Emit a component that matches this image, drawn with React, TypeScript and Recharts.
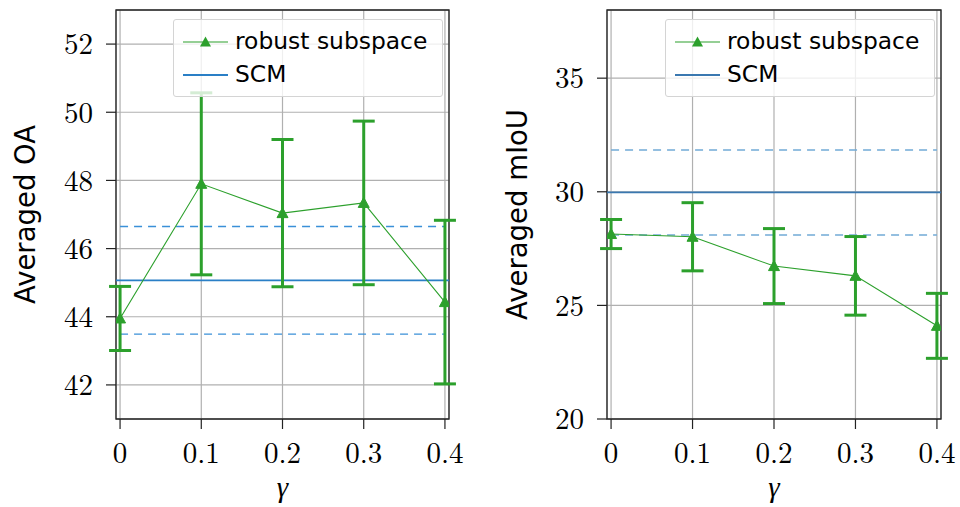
import {
  ComposedChart,
  Line,
  XAxis,
  YAxis,
  CartesianGrid,
  ErrorBar,
  ReferenceLine,
  ReferenceArea,
  Legend,
} from "recharts";

const gammas = [0, 0.1, 0.2, 0.3, 0.4];

const oaMean = [43.95, 47.9, 47.04, 47.34, 44.43];
const oaErr = [0.94, 2.67, 2.16, 2.4, 2.4];
const oaTicks = [42, 44, 46, 48, 50, 52];
const scmOa = 45.07;
const scmOaStd = 1.58;

const miouMean = [28.14, 28.02, 26.73, 26.3, 24.1];
const miouErr = [0.64, 1.5, 1.65, 1.73, 1.43];
const miouTicks = [20, 25, 30, 35];
const scmMiou = 29.97;
const scmMiouStd = 1.87;

const GREEN = "#2ca02c";
const SERIF = "Latin Modern Roman";
const SANS = "DejaVu Sans";
const X_DOMAIN: [number, number] = [-0.005, 0.405];
const W = 480;
const H = 507;
const PLOT_TOP = 10;
const PLOT_BOTTOM = 419;

function Triangle(props: any) {
  const { cx, cy, index } = props;
  if (cx == null || cy == null) return <g key={`t-${index}`} />;
  return (
    <polygon
      key={`t-${index}`}
      points={`${cx},${cy - 5.5} ${cx - 5.5},${cy + 4.5} ${cx + 5.5},${cy + 4.5}`}
      fill={GREEN}
      stroke={GREEN}
      strokeWidth={1}
    />
  );
}

function LegendBox({ solid }: { solid: string }) {
  return (
    <div
      style={{
        boxSizing: "border-box",
        width: 270,
        height: 78,
        background: "rgba(255,255,255,0.8)",
        border: "1px solid #d4d4d4",
        borderRadius: 3,
      }}
    >
      <svg width={268} height={76} style={{ display: "block" }}>
        <path d="M9,22H54" stroke={GREEN} strokeWidth={1.2} />
        <polygon points="31.5,16.5 26,26.5 37,26.5" fill={GREEN} />
        <text x={61} y={29} fontSize={23.4} style={{ fontFamily: SANS }} fill="#000">
          robust subspace
        </text>
        <path d="M9,55H54" stroke={solid} strokeWidth={1.8} />
        <text x={61} y={62} fontSize={23.4} style={{ fontFamily: SANS }} fill="#000">
          SCM
        </text>
      </svg>
    </div>
  );
}

type PanelProps = {
  id: string;
  mean: number[];
  err: number[];
  yDomain: [number, number];
  yTicks: number[];
  yLabel: string;
  scm: number;
  scmStd: number;
  yAxisWidth: number;
  marginRight: number;
  labelX: number;
  legendLeft: number;
  solid: string;
  dashed: string;
};

const panels: PanelProps[] = [
  {
    id: "oa",
    mean: oaMean,
    err: oaErr,
    yDomain: [41, 53],
    yTicks: oaTicks,
    yLabel: "Averaged OA",
    scm: scmOa,
    scmStd: scmOaStd,
    yAxisWidth: 116,
    marginRight: 31,
    labelX: 35,
    legendLeft: 173,
    solid: "#2a7fc6",
    dashed: "#3a90d8",
  },
  {
    id: "miou",
    mean: miouMean,
    err: miouErr,
    yDomain: [20, 38],
    yTicks: miouTicks,
    yLabel: "Averaged mIoU",
    scm: scmMiou,
    scmStd: scmMiouStd,
    yAxisWidth: 127,
    marginRight: 19,
    labelX: 47,
    legendLeft: 185,
    solid: "#3a78b0",
    dashed: "#72aad6",
  },
];

function Panel(p: PanelProps) {
  const data = gammas.map((g, i) => ({ g, mean: p.mean[i], err: p.err[i] }));
  const tickStyle = { fontSize: 29, fill: "#000", style: { fontFamily: SERIF } };
  return (
    <ComposedChart
      width={W}
      height={H}
      data={data}
      margin={{ top: PLOT_TOP, right: p.marginRight, bottom: 0, left: 0 }}
    >
      <CartesianGrid stroke="#b0b0b0" strokeWidth={1.2} />
      <XAxis
        dataKey="g"
        type="number"
        domain={X_DOMAIN}
        ticks={gammas}
        allowDataOverflow
        height={H - PLOT_BOTTOM}
        axisLine={false}
        tickLine={{ stroke: "#222", strokeWidth: 1.2 }}
        tickSize={10}
        tickMargin={13}
        tick={tickStyle}
        tickFormatter={(v: number) => (v === 0 ? "0" : v.toFixed(1))}
        label={{
          value: "γ",
          content: (lp: any) => {
            const vb = lp.viewBox || {};
            return (
              <text
                x={vb.x + vb.width / 2}
                y={497}
                textAnchor="middle"
                fontSize={29}
                fontStyle="italic"
                style={{ fontFamily: "Liberation Serif" }}
                fill="#000"
              >
                γ
              </text>
            );
          },
        }}
      />
      <YAxis
        type="number"
        domain={p.yDomain}
        ticks={p.yTicks}
        allowDataOverflow
        width={p.yAxisWidth}
        axisLine={false}
        tickLine={{ stroke: "#222", strokeWidth: 1.2 }}
        tickSize={10}
        tickMargin={13}
        tick={tickStyle}
        label={{
          value: p.yLabel,
          content: () => (
            <text
              x={p.labelX}
              y={(PLOT_TOP + PLOT_BOTTOM) / 2}
              transform={`rotate(-90, ${p.labelX}, ${(PLOT_TOP + PLOT_BOTTOM) / 2})`}
              textAnchor="middle"
              fontSize={27.5}
              style={{ fontFamily: SANS }}
              fill="#000"
            >
              {p.yLabel}
            </text>
          ),
        }}
      />
      <ReferenceLine
        segment={[
          { x: 0, y: p.scm + p.scmStd },
          { x: 0.4, y: p.scm + p.scmStd },
        ]}
        stroke={p.dashed}
        strokeWidth={1.4}
        strokeDasharray="8 6"
      />
      <ReferenceLine
        segment={[
          { x: 0, y: p.scm - p.scmStd },
          { x: 0.4, y: p.scm - p.scmStd },
        ]}
        stroke={p.dashed}
        strokeWidth={1.4}
        strokeDasharray="8 6"
      />
      <ReferenceLine y={p.scm} stroke={p.solid} strokeWidth={1.8} />
      <Line
        dataKey="mean"
        stroke={GREEN}
        strokeWidth={1.1}
        dot={Triangle}
        activeDot={false}
        isAnimationActive={false}
      >
        <ErrorBar
          dataKey="err"
          direction="y"
          width={11}
          stroke={GREEN}
          strokeWidth={3}
          isAnimationActive={false}
        />
      </Line>
      <ReferenceArea
        x1={X_DOMAIN[0]}
        x2={X_DOMAIN[1]}
        y1={p.yDomain[0]}
        y2={p.yDomain[1]}
        fill="none"
        fillOpacity={0}
        stroke="#222"
        strokeWidth={1.3}
      />
      <Legend
        layout="vertical"
        align="center"
        verticalAlign="middle"
        content={() => <LegendBox solid={p.solid} />}
        wrapperStyle={{ left: p.legendLeft, top: 19, width: 270, height: 78 }}
      />
    </ComposedChart>
  );
}

// error bars clipped to the plot area, the way matplotlib clips them
const clipCss = panels
  .map(
    (p) =>
      `#${p.id}-wrap svg.recharts-surface line[stroke="${GREEN}"] { clip-path: url(#${p.id}-errclip); }`
  )
  .join("\n");

export default function App() {
  return (
    <div
      style={{
        position: "absolute",
        left: 0,
        top: 0,
        width: 960,
        height: H,
        background: "#fff",
      }}
    >
      <style>{clipCss}</style>
      <svg width={0} height={0} style={{ position: "absolute" }}>
        <defs>
          {panels.map((p) => (
            <clipPath key={p.id} id={`${p.id}-errclip`} clipPathUnits="userSpaceOnUse">
              <rect
                x={p.yAxisWidth}
                y={PLOT_TOP}
                width={W - p.yAxisWidth - p.marginRight}
                height={PLOT_BOTTOM - PLOT_TOP}
              />
            </clipPath>
          ))}
        </defs>
      </svg>
      {panels.map((p, i) => (
        <div
          key={p.id}
          id={`${p.id}-wrap`}
          style={{ position: "absolute", left: i * W, top: 0 }}
        >
          <Panel {...p} />
        </div>
      ))}
    </div>
  );
}
